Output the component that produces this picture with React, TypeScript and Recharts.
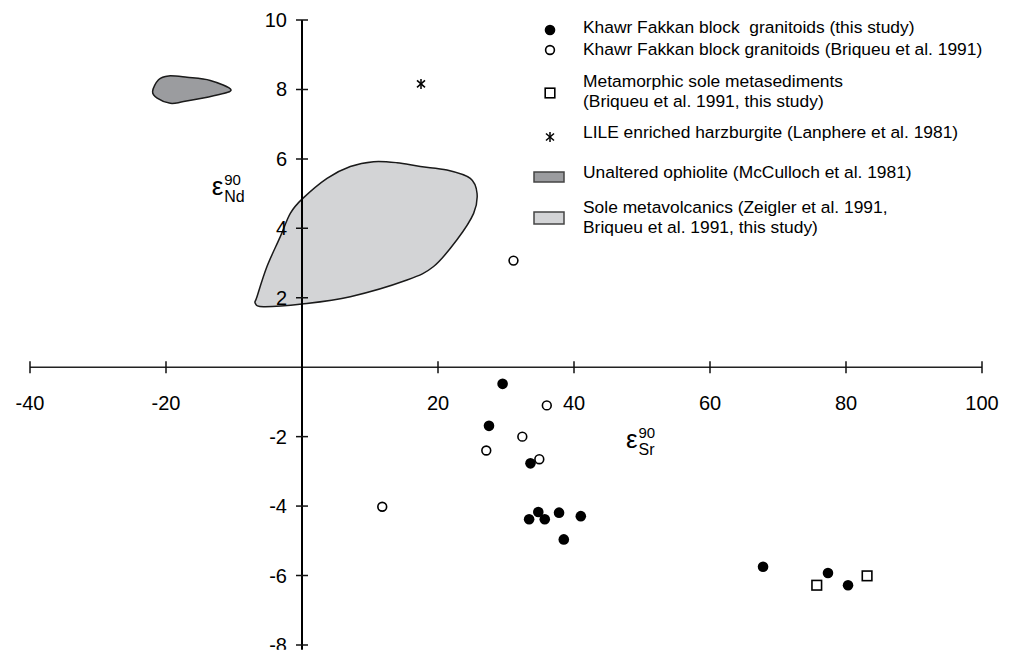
import { Scatter, ScatterChart, XAxis, YAxis } from "recharts";

const FONT = '"Liberation Sans", Arial, Helvetica, sans-serif';

// epsilon Sr (x) / epsilon Nd (y) at 90 Ma
const kfThisStudy = [
  { x: 29.5, y: -0.48 },
  { x: 27.5, y: -1.69 },
  { x: 33.6, y: -2.77 },
  { x: 34.75, y: -4.17 },
  { x: 33.4, y: -4.38 },
  { x: 35.7, y: -4.38 },
  { x: 37.8, y: -4.19 },
  { x: 41.0, y: -4.29 },
  { x: 38.5, y: -4.96 },
  { x: 67.8, y: -5.75 },
  { x: 77.35, y: -5.93 },
  { x: 80.3, y: -6.28 },
];

const kfBriqueu = [
  { x: 36.0, y: -1.1 },
  { x: 32.4, y: -2.0 },
  { x: 27.1, y: -2.4 },
  { x: 34.9, y: -2.65 },
  { x: 11.8, y: -4.02 },
  { x: 31.1, y: 3.07 },
];

const soleMetasediments = [
  { x: 75.7, y: -6.28 },
  { x: 83.1, y: -6.01 },
];

const harzburgite = [{ x: 17.5, y: 8.16 }];

// outline of the unaltered ophiolite field
const ophioliteField = [
  { x: -21.97, y: 7.94 },
  { x: -21.3, y: 7.75 },
  { x: -19.37, y: 7.6 },
  { x: -17.41, y: 7.65 },
  { x: -13.0, y: 7.82 },
  { x: -10.44, y: 7.99 },
  { x: -13.49, y: 8.26 },
  { x: -16.91, y: 8.35 },
  { x: -19.62, y: 8.39 },
  { x: -21.1, y: 8.28 },
];

// outline of the sole metavolcanics field
const metavolcanicsField = [
  { x: -6.87, y: 1.84 },
  { x: -5.65, y: 1.74 },
  { x: 0, y: 1.82 },
  { x: 7.1, y: 2.03 },
  { x: 15.44, y: 2.51 },
  { x: 19.35, y: 2.9 },
  { x: 22.79, y: 3.67 },
  { x: 25.24, y: 4.43 },
  { x: 25.74, y: 5.01 },
  { x: 24.75, y: 5.44 },
  { x: 21.32, y: 5.68 },
  { x: 17.4, y: 5.78 },
  { x: 13.97, y: 5.89 },
  { x: 10.53, y: 5.92 },
  { x: 7.1, y: 5.78 },
  { x: 3.68, y: 5.44 },
  { x: 0, y: 4.84 },
  { x: -1.72, y: 4.43 },
  { x: -3.19, y: 3.76 },
  { x: -5.15, y: 2.9 },
  { x: -6.62, y: 2.03 },
];

const xTicks = [-40, -20, 20, 40, 60, 80, 100];
const yTicks = [10, 8, 6, 4, 2, -2, -4, -6, -8];

// the axes cross at the origin, so they are drawn as series through the chart's scales
const xAxisLine = [
  { x: -40, y: 0 },
  { x: 100, y: 0 },
];
const yAxisLine = [
  { x: 0, y: 10 },
  { x: 0, y: -8.2 },
];
const xTickPoints = xTicks.map((t) => ({ x: t, y: 0 }));
const yTickPoints = yTicks.map((t) => ({ x: 0, y: t }));

/** Closed Catmull-Rom path through the (pixel) outline points. */
function closedSpline(pts: { x: number; y: number }[]) {
  const n = pts.length;
  if (!n) return "";
  let d = `M${pts[0].x},${pts[0].y}`;
  for (let i = 0; i < n; i += 1) {
    const p0 = pts[(i - 1 + n) % n];
    const p1 = pts[i];
    const p2 = pts[(i + 1) % n];
    const p3 = pts[(i + 2) % n];
    const c1x = p1.x + (p2.x - p0.x) / 6;
    const c1y = p1.y + (p2.y - p0.y) / 6;
    const c2x = p2.x - (p3.x - p1.x) / 6;
    const c2y = p2.y - (p3.y - p1.y) / 6;
    d += ` C${c1x},${c1y} ${c2x},${c2y} ${p2.x},${p2.y}`;
  }
  return `${d} Z`;
}

const noMarker = () => <g />;

const fieldOutline = (fill: string) => (props: any) => (
  <path d={closedSpline(props.points)} fill={fill} stroke="#1a1a1a" strokeWidth={1.5} />
);

const filledDot = (p: any) => <circle cx={p.cx} cy={p.cy} r={5.3} fill="#000" />;
const openDot = (p: any) => <circle cx={p.cx} cy={p.cy} r={4.4} fill="#fff" stroke="#000" strokeWidth={1.6} />;
const openSquare = (p: any) => (
  <rect x={p.cx - 4.8} y={p.cy - 4.8} width={9.6} height={9.6} fill="#fff" stroke="#000" strokeWidth={1.6} />
);
const asterisk = (p: any) => <Star cx={p.cx} cy={p.cy} />;

function Star({ cx, cy }: { cx: number; cy: number }) {
  return (
    <g stroke="#000" strokeWidth={1.5}>
      <line x1={cx} x2={cx} y1={cy - 5} y2={cy + 5} />
      <line x1={cx - 4} x2={cx + 4} y1={cy - 3.5} y2={cy + 3.5} />
      <line x1={cx - 4} x2={cx + 4} y1={cy + 3.5} y2={cy - 3.5} />
    </g>
  );
}

const xTickShape = (p: any) => (
  <g>
    <line x1={p.cx} x2={p.cx} y1={p.cy - 6} y2={p.cy + 6} stroke="#111" strokeWidth={1.5} />
    <text x={p.cx} y={p.cy + 43} textAnchor="middle" fontSize={20} fontFamily={FONT} fill="#000">
      {p.payload.x}
    </text>
  </g>
);

const yTickShape = (p: any) => (
  <g>
    <line x1={p.cx - 6} x2={p.cx + 6} y1={p.cy} y2={p.cy} stroke="#111" strokeWidth={1.5} />
    <text x={p.cx - 15} y={p.cy + 7} textAnchor="end" fontSize={20} fontFamily={FONT} fill="#000">
      {p.payload.y}
    </text>
  </g>
);

function EpsLabel({ x, y, sub }: { x: number; y: number; sub: string }) {
  return (
    <g fontFamily={FONT} fill="#000">
      <text x={x} y={y} fontSize={26}>
        ε
      </text>
      <text x={x + 12.5} y={y - 10} fontSize={15}>
        90
      </text>
      <text x={x + 12.5} y={y + 7} fontSize={16}>
        {sub}
      </text>
    </g>
  );
}

const legendText = { fontSize: 17.4, fontFamily: FONT, fill: "#000", style: { whiteSpace: "pre" as const } };

function LegendBlock() {
  const mx = 550;
  const tx = 583;
  return (
    <g>
      <circle cx={mx} cy={30} r={5.3} fill="#000" />
      <text x={tx} y={33} {...legendText}>Khawr Fakkan block  granitoids (this study)</text>

      <circle cx={mx} cy={50} r={4.4} fill="#fff" stroke="#000" strokeWidth={1.6} />
      <text x={tx} y={55} {...legendText}>Khawr Fakkan block granitoids (Briqueu et al. 1991)</text>

      <rect x={mx - 4.8} y={88.2} width={9.6} height={9.6} fill="#fff" stroke="#000" strokeWidth={1.6} />
      <text x={tx} y={87} {...legendText}>Metamorphic sole metasediments</text>
      <text x={tx} y={107} {...legendText}>(Briqueu et al. 1991, this study)</text>

      <Star cx={mx} cy={137} />
      <text x={tx} y={138} {...legendText}>LILE enriched harzburgite (Lanphere et al. 1981)</text>

      <rect x={534} y={172} width={30} height={10} fill="#9b9c9f" stroke="#444" strokeWidth={1.5} />
      <text x={tx} y={178} {...legendText}>Unaltered ophiolite (McCulloch et al. 1981)</text>

      <rect x={534} y={212} width={30} height={12} fill="#d3d4d6" stroke="#444" strokeWidth={1.5} />
      <text x={tx} y={212.5} {...legendText}>Sole metavolcanics (Zeigler et al. 1991,</text>
      <text x={tx} y={233} {...legendText}>Briqueu et al. 1991, this study)</text>
    </g>
  );
}

export default function App() {
  return (
    <div style={{ position: "absolute", left: 0, top: 0, width: 1009, height: 650, fontFamily: FONT, background: "#fff" }}>
      <ScatterChart width={1009} height={650} margin={{ top: 9.6, right: 3.2, bottom: 0.2, left: 6.2 }}>
        <XAxis type="number" dataKey="x" domain={[-43.5, 103.5]} hide allowDataOverflow />
        <YAxis type="number" dataKey="y" domain={[-8.14, 10.3]} hide allowDataOverflow />

        <Scatter data={ophioliteField} isAnimationActive={false} shape={noMarker} line={fieldOutline("#9b9c9f")} lineType="joint" />
        <Scatter data={metavolcanicsField} isAnimationActive={false} shape={noMarker} line={fieldOutline("#d3d4d6")} lineType="joint" />

        <Scatter data={xAxisLine} isAnimationActive={false} shape={noMarker} line={{ stroke: "#222", strokeWidth: 1.5 }} lineType="joint" />
        <Scatter data={yAxisLine} isAnimationActive={false} shape={noMarker} line={{ stroke: "#000", strokeWidth: 2 }} lineType="joint" />
        <Scatter data={xTickPoints} isAnimationActive={false} shape={xTickShape} />
        <Scatter data={yTickPoints} isAnimationActive={false} shape={yTickShape} />

        <Scatter data={harzburgite} isAnimationActive={false} shape={asterisk} />
        <Scatter data={kfThisStudy} isAnimationActive={false} shape={filledDot} />
        <Scatter data={soleMetasediments} isAnimationActive={false} shape={openSquare} />
        <Scatter data={kfBriqueu} isAnimationActive={false} shape={openDot} />
      </ScatterChart>

      <svg width={1009} height={650} style={{ position: "absolute", left: 0, top: 0, pointerEvents: "none" }}>
        <EpsLabel x={211.7} y={195} sub="Nd" />
        <EpsLabel x={626} y={447.6} sub="Sr" />
        <LegendBlock />
      </svg>
    </div>
  );
}
